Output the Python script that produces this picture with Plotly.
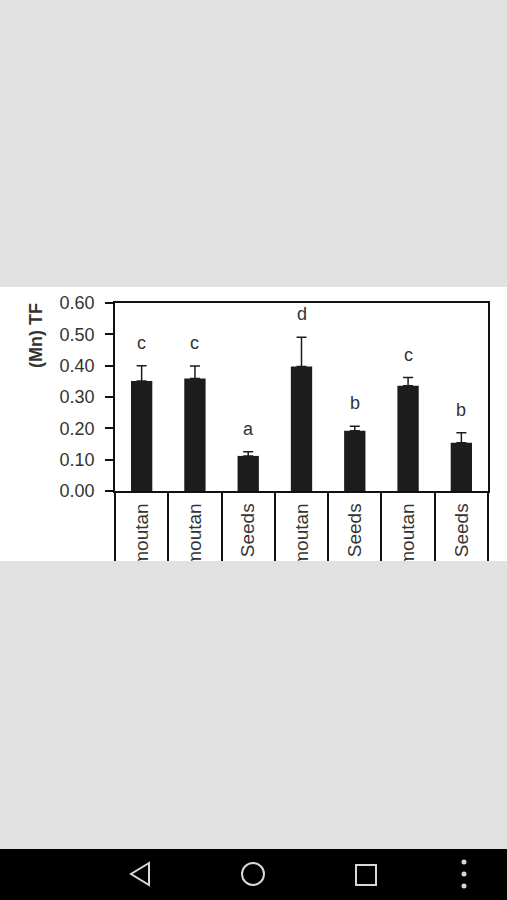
import plotly.graph_objects as go

# ---- data ----
categories = ["Cortex moutan", "Cortex moutan", "Seeds", "Cortex moutan", "Seeds", "Cortex moutan", "Seeds"]
tf_mean = [0.351, 0.359, 0.112, 0.397, 0.192, 0.336, 0.154]
tf_err = [0.049, 0.040, 0.013, 0.094, 0.015, 0.026, 0.032]
sig_letters = ["c", "c", "a", "d", "b", "c", "b"]
y_ticks = [0.0, 0.1, 0.2, 0.3, 0.4, 0.5, 0.6]

# ---- page geometry (pixels) ----
W, H = 507, 900
L, R, T, B = 115, 19, 303, 409
PW, PH = W - L - R, H - T - B

def px(x):
    return (x - L) / PW

def py(y):
    return (H - B - y) / PH

FONT = "Liberation Sans, Arial, sans-serif"
TXT = "#333333"
PAGE = "#e1e1e1"

xs = list(range(len(categories)))

fig = go.Figure()
fig.add_trace(go.Bar(
    x=xs, y=tf_mean,
    marker=dict(color="#1c1c1c", line=dict(width=0)),
    width=0.4,
    error_y=dict(type="data", array=tf_err, symmetric=False,
                 arrayminus=[0] * len(tf_err),
                 color="#1c1c1c", thickness=1.5, width=5),
    showlegend=False, hoverinfo="skip",
))

annotations = []
for xi, m, e, s in zip(xs, tf_mean, tf_err, sig_letters):
    annotations.append(dict(x=xi, y=m + e, xref="x", yref="y", text=s,
                            showarrow=False, yanchor="bottom", yshift=11,
                            font=dict(family=FONT, size=18, color=TXT)))
annotations.append(dict(x=px(36), y=py(336), xref="paper", yref="paper",
                        xanchor="center", yanchor="middle",
                        text="<b>(Mn) TF</b>", textangle=-90, showarrow=False,
                        font=dict(family=FONT, size=18, color=TXT)))

shapes = [
    # white image panel
    dict(type="rect", xref="paper", yref="paper", x0=px(0), x1=px(W), y0=py(561), y1=py(287),
         fillcolor="white", line=dict(width=0), layer="below"),
    # gray area below image (crops long labels)
    dict(type="rect", xref="paper", yref="paper", x0=px(0), x1=px(W), y0=py(849), y1=py(561),
         fillcolor=PAGE, line=dict(width=0), layer="above"),
    # nav bar
    dict(type="rect", xref="paper", yref="paper", x0=px(0), x1=px(W), y0=py(H), y1=py(849),
         fillcolor="black", line=dict(width=0), layer="above"),
    # back triangle
    dict(type="path", xref="paper", yref="paper",
         path=f"M {px(149)},{py(863)} L {px(131)},{py(874)} L {px(149)},{py(885)} Z",
         line=dict(color="#d8d8d8", width=2), layer="above"),
    # home circle
    dict(type="circle", xref="paper", yref="paper", x0=px(242), x1=px(264), y0=py(885), y1=py(863),
         line=dict(color="#d8d8d8", width=2), layer="above"),
    # recents square
    dict(type="rect", xref="paper", yref="paper", x0=px(356), x1=px(376), y0=py(885), y1=py(865),
         line=dict(color="#d8d8d8", width=2), layer="above"),
]
for cy in (862, 874, 886):
    shapes.append(dict(type="circle", xref="paper", yref="paper",
                       x0=px(461.5), x1=px(466.5), y0=py(cy + 2.5), y1=py(cy - 2.5),
                       fillcolor="#d8d8d8", line=dict(width=0), layer="above"))

fig.update_layout(
    width=W, height=H,
    margin=dict(l=L, r=R, t=T, b=B, autoexpand=False),
    paper_bgcolor=PAGE, plot_bgcolor="white",
    font=dict(family=FONT, size=18, color=TXT),
    annotations=annotations, shapes=shapes,
    bargap=0.6,
    xaxis=dict(range=[-0.5, len(categories) - 0.5], tickmode="array", tickvals=xs,
               ticktext=categories, tickangle=-90, ticks="", showgrid=False,
               showline=True, linecolor="#111111", linewidth=1.5, mirror=True,
               zeroline=False, ticklabelstandoff=3,
               tickfont=dict(family=FONT, size=19, color=TXT),
               minor=dict(tickmode="array", tickvals=[i - 0.5 for i in range(len(categories) + 1)],
                          ticks="outside", ticklen=80, tickwidth=1.5, tickcolor="#111111",
                          showgrid=False)),
    yaxis=dict(range=[0, 0.6], tickmode="array", tickvals=y_ticks,
               ticktext=[f"{v:.2f}" for v in y_ticks],
               ticks="outside", ticklen=8, tickwidth=1.5, tickcolor="#111111",
               showline=True, linecolor="#111111", linewidth=1.5, mirror=True,
               showgrid=False, zeroline=False, ticklabelstandoff=7,
               tickfont=dict(family=FONT, size=18, color=TXT)),
)

fig.write_html(
    "out.html",
    config={"displayModeBar": False},
    post_script="document.body.style.margin='0';document.body.style.overflow='hidden';"
                "document.body.style.background='#e1e1e1';",
)
